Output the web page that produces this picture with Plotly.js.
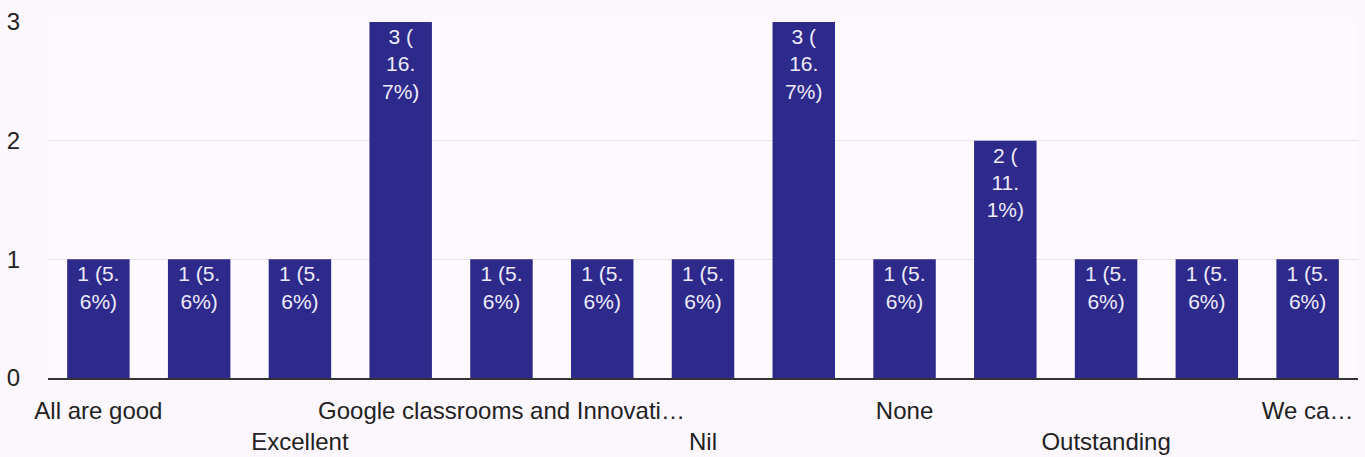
<!DOCTYPE html>
<html>
<head>
<meta charset="utf-8">
<script src="https://cdn.plot.ly/plotly-3.0.1.min.js"></script>
<style>html,body{margin:0;padding:0;background:#fcf7fc;}#chart{width:1365px;height:457px;}</style>
</head>
<body>
<div id="chart"></div>
<script>
// Categories (alphabetical, as in the Google Forms summary); only every other label is shown on the axis
const categories = ["All are good", "Awesome", "Excellent", "Good", "Google classrooms and Innovati\u2026", "Helpful", "Nil", "No", "None", "Nothing", "Outstanding", "Very good", "We ca\u2026"];
const counts = [1, 1, 1, 3, 1, 1, 1, 3, 1, 2, 1, 1, 1];
const labelsRow1 = ["All are good", "Google classrooms and Innovati\u2026", "None", "We ca\u2026"];
const labelsRow2 = ["Excellent", "Nil", "Outstanding"];
const yTicks = [0, 1, 2, 3];

const total = counts.reduce((a, b) => a + b, 0);
const barText = counts.map(v => {
  const pct = (v / total * 100).toFixed(1);
  const [ip, dp] = pct.split('.');
  return ip.length > 1 ? `${v} (<br>${ip}.<br>${dp}%)` : `${v} (${ip}.<br>${dp}%)`;
});

// staggered axis labels: second row pushed down one line
const shown = categories.filter(c => labelsRow1.includes(c) || labelsRow2.includes(c));
const shownText = shown.map(c => labelsRow2.includes(c) ? '<br>' + c : c);

const FONT = "Liberation Sans, Arial, sans-serif";

const trace = {
  type: 'bar',
  x: categories,
  y: counts,
  text: barText,
  textposition: 'inside',
  insidetextanchor: 'end',
  constraintext: 'none',
  textangle: 0,
  textfont: {family: FONT, size: 21, color: '#eeeaf8'},
  marker: {color: '#2e2a8c', line: {width: 0}},
  hoverinfo: 'skip'
};

const layout = {
  width: 1365, height: 457,
  margin: {l: 48, r: 7, t: 22, b: 79},
  paper_bgcolor: '#fcf7fc',
  plot_bgcolor: '#fdf9fd',
  bargap: 0.38,
  showlegend: false,
  font: {family: FONT, size: 24, color: '#222'},
  xaxis: {
    type: 'category',
    tickvals: shown,
    ticktext: shownText,
    tickangle: 0,
    ticks: '',
    showgrid: false,
    zeroline: false,
    showline: true,
    linecolor: '#333',
    linewidth: 2,
    ticklabelstandoff: 10,
    tickfont: {family: FONT, size: 24, color: '#222'},
    fixedrange: true
  },
  yaxis: {
    range: [0, 3],
    tickvals: yTicks,
    ticktext: yTicks.map(String),
    ticks: '',
    showgrid: true,
    gridcolor: '#e6e3ea',
    gridwidth: 1,
    zeroline: false,
    showline: false,
    ticklabelstandoff: 27,
    tickfont: {family: FONT, size: 24, color: '#222'},
    fixedrange: true
  }
};

Plotly.newPlot('chart', [trace], layout, {displayModeBar: false, staticPlot: true});
</script>
</body>
</html>
